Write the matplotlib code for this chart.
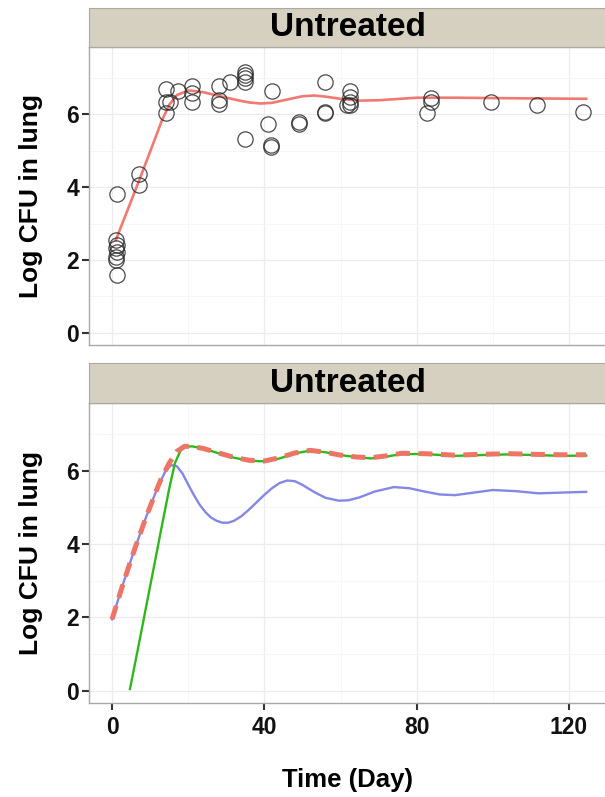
import matplotlib
matplotlib.use("Agg")
import matplotlib.pyplot as plt

plt.rcParams["font.family"] = ["Liberation Sans", "DejaVu Sans"]
plt.rcParams["font.weight"] = "bold"

# observed CFU (top panel)
obs_day = [1.2, 1.0, 1.2, 1.0, 1.2, 1.0, 1.0, 1.2,
           7.2, 7.2,
           14.2, 14.2, 14.2, 15.1, 17.2,
           21.1, 21.1, 21.1,
           28.0, 28.0, 28.0, 31.1,
           35.0, 35.0, 35.0, 35.0, 35.0,
           42.0, 41.0, 41.8, 41.8,
           49.0, 49.0,
           55.9, 55.9, 55.9,
           62.6, 62.6, 62.6, 62.6, 61.8,
           83.7, 83.7, 82.8,
           99.5, 111.6, 123.6]
obs_cfu = [3.81, 2.55, 2.41, 2.32, 2.23, 2.09, 2.0, 1.59,
           4.37, 4.05,
           6.70, 6.34, 6.02, 6.34, 6.64,
           6.77, 6.59, 6.32,
           6.77, 6.38, 6.27, 6.89,
           7.16, 7.07, 6.98, 6.89, 5.33,
           6.62, 5.73, 5.15, 5.09,
           5.79, 5.73,
           6.89, 6.07, 6.02,
           6.62, 6.48, 6.34, 6.25, 6.25,
           6.43, 6.34, 6.02,
           6.32, 6.26, 6.07]

# smoothed fit (top panel)
fit_day = [1, 4, 7, 10, 13, 15, 17, 20, 24, 28, 33, 36, 39, 42, 46, 50, 53,
           56, 60, 65, 70, 80, 90, 100, 110, 124.5]
fit_cfu = [2.55, 3.35, 4.15, 4.97, 5.8, 6.25, 6.52, 6.65, 6.6, 6.5, 6.38, 6.32,
           6.29, 6.31, 6.4, 6.49, 6.51, 6.48, 6.42, 6.37, 6.38, 6.45, 6.45,
           6.44, 6.43, 6.42]

# model curves (bottom panel)
blue_day = [0, 3, 6, 9, 12, 14, 15.5, 17, 18.5, 20, 21.5, 23, 24.5, 26, 27.5,
            29, 30.5, 32, 34, 36, 38, 40, 42, 44, 46, 48, 50, 53, 56, 59.5,
            62, 65, 69, 74, 78, 82, 86, 90, 95, 100, 106, 112, 118, 124.5]
blue_cfu = [1.95, 2.95, 3.88, 4.75, 5.55, 5.98, 6.15, 6.12, 5.92, 5.62, 5.33,
            5.07, 4.87, 4.72, 4.63, 4.58, 4.58, 4.63, 4.76, 4.94, 5.14, 5.34,
            5.52, 5.66, 5.73, 5.71, 5.61, 5.42, 5.26, 5.18, 5.19, 5.27, 5.43,
            5.55, 5.52, 5.43, 5.35, 5.33, 5.4, 5.47, 5.44, 5.38, 5.4, 5.42]

green_day = [4.7, 7, 9, 11, 13, 15, 16.5, 18, 19.5, 21, 24, 28, 32, 36, 40, 44,
             48, 52, 56, 60, 64, 68, 72, 76, 82, 90, 96, 104, 112, 118, 124.5]
green_cfu = [0.05, 1.25, 2.32, 3.38, 4.45, 5.5, 6.2, 6.55, 6.65, 6.66, 6.6, 6.47,
             6.35, 6.27, 6.25, 6.33, 6.47, 6.54, 6.5, 6.42, 6.37, 6.33, 6.38, 6.45,
             6.45, 6.4, 6.42, 6.44, 6.42, 6.4, 6.41]

red_day = [0, 3, 6, 9, 12, 13, 15, 17, 19, 21, 24, 28, 32, 36, 40, 44, 48, 52,
           56, 60, 64, 68, 72, 76, 82, 90, 96, 104, 112, 118, 124.5]
red_cfu = [1.95, 2.95, 3.88, 4.75, 5.55, 5.8, 6.2, 6.52, 6.66, 6.66, 6.6, 6.48,
           6.36, 6.28, 6.26, 6.35, 6.48, 6.55, 6.5, 6.42, 6.37, 6.35, 6.4, 6.47,
           6.46, 6.42, 6.44, 6.46, 6.44, 6.43, 6.43]

x_ticks = [0, 40, 80, 120]
y_ticks = [0, 2, 4, 6]

W, H = 605, 797
fig = plt.figure(figsize=(W / 100, H / 100), dpi=100)


def box(left, top, right, bottom):
    return [left / W, 1 - bottom / H, (right - left) / W, (bottom - top) / H]


def style_panel(ax, show_x):
    ax.set_xlim(-6.05, 129.7)
    ax.set_ylim(-0.33, 7.84)
    ax.set_xticks(x_ticks)
    ax.set_yticks(y_ticks)
    ax.set_xticks([20, 60, 100], minor=True)
    ax.set_yticks([1, 3, 5, 7], minor=True)
    ax.grid(which="major", color="#ececec", lw=0.9)
    ax.grid(which="minor", color="#f6f6f6", lw=0.7)
    ax.set_axisbelow(True)
    for s in ax.spines.values():
        s.set_color("#a8a8a8")
        s.set_linewidth(1.0)
    ax.tick_params(which="minor", length=0)
    ax.tick_params(axis="y", which="major", length=5, width=1.5, color="#333333",
                   labelsize=16.5, labelcolor="#111111", pad=2)
    if show_x:
        ax.tick_params(axis="x", which="major", length=5, width=1.5, color="#333333",
                       labelsize=16.5, labelcolor="#111111", pad=4)
    else:
        ax.tick_params(axis="x", which="major", length=0, labelbottom=False)
    for lab in ax.get_xticklabels() + ax.get_yticklabels():
        lab.set_fontweight("bold")


def strip(top, bottom, text):
    sax = fig.add_axes(box(89, top, 606, bottom))
    sax.set_facecolor("#d5d0bf")
    sax.set_xticks([])
    sax.set_yticks([])
    for s in sax.spines.values():
        s.set_color("#a8a8a8")
    sax.text(0.5, 0.5, text, ha="center", va="center", fontsize=24,
             fontweight="bold", color="black", transform=sax.transAxes)


# top panel
ax1 = fig.add_axes(box(89, 47, 606, 345))
ax1.plot(fit_day, fit_cfu, color="#f07a72", lw=1.9, zorder=2)
ax1.plot(obs_day, obs_cfu, ls="none", marker="o", ms=11, mfc="none",
         mec="#2a2a2a", mew=0.9, alpha=0.85, zorder=3)
style_panel(ax1, show_x=False)
strip(8, 47, "Untreated")

# bottom panel
ax2 = fig.add_axes(box(89, 403, 606, 703))
ax2.plot(blue_day, blue_cfu, color="#8487e6", lw=1.7, zorder=2)
ax2.plot(green_day, green_cfu, color="#2fb81c", lw=1.7, zorder=3)
ax2.plot(red_day, red_cfu, color="#ee7565", lw=3.6, dashes=(2.8, 1.7),
         solid_capstyle="butt", zorder=4)
style_panel(ax2, show_x=True)
strip(363, 403, "Untreated")

fig.text(31 / W, 1 - 196 / H, "Log CFU in lung", rotation=90, ha="center",
         va="center", fontsize=19, fontweight="bold")
fig.text(31 / W, 1 - 553 / H, "Log CFU in lung", rotation=90, ha="center",
         va="center", fontsize=19, fontweight="bold")
fig.text(347 / W, 1 - 780 / H, "Time (Day)", ha="center", va="center",
         fontsize=18.5, fontweight="bold")

fig.savefig("out.png", dpi=100)
